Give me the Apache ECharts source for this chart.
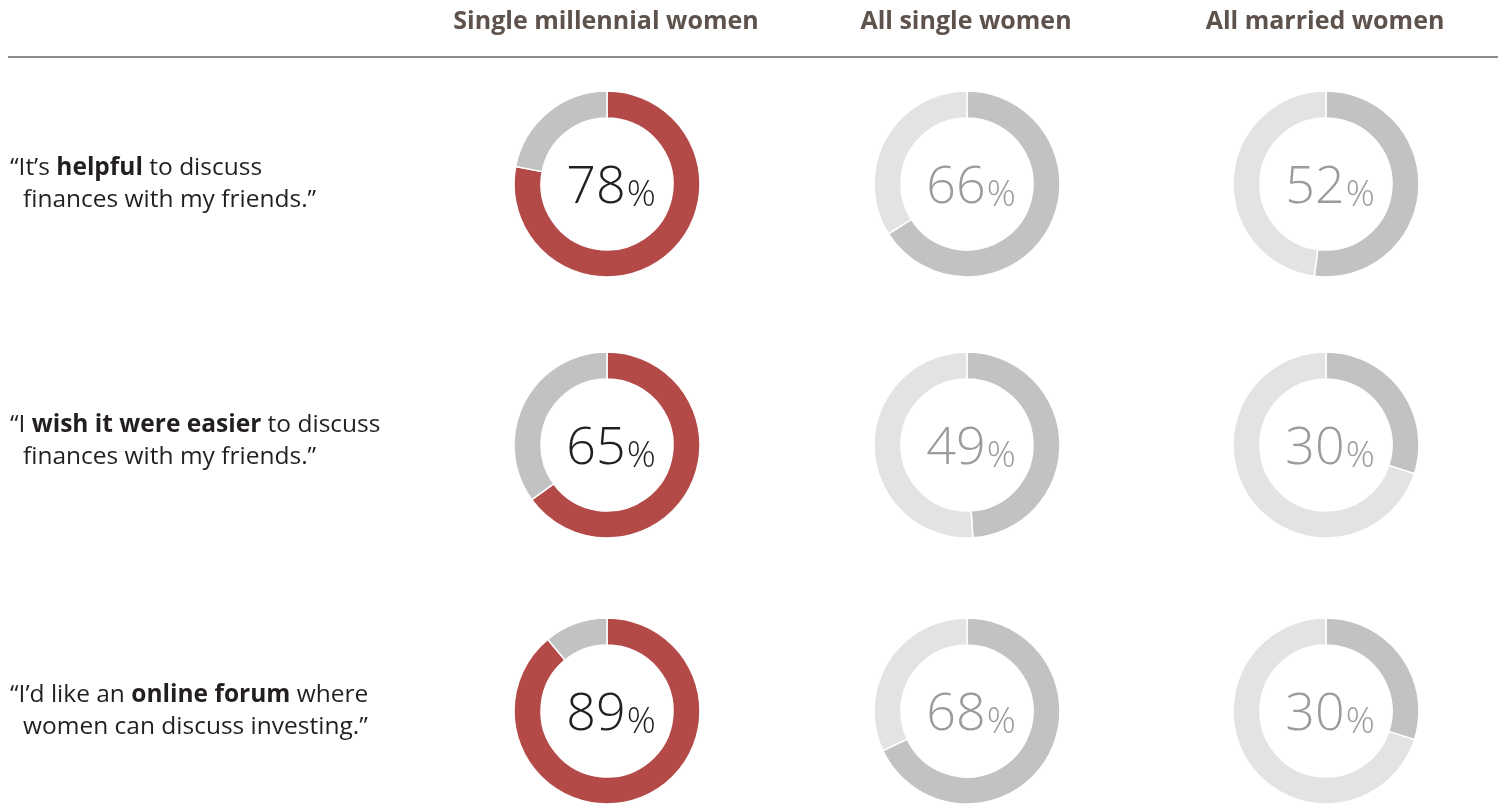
<!DOCTYPE html>
<html>
<head>
<meta charset="utf-8">
<script src="https://cdn.jsdelivr.net/npm/echarts@6/dist/echarts.min.js"></script>
<style>
html,body{margin:0;padding:0;background:#fff;}
#chart{width:1506px;height:808px;}
</style>
</head>
<body>
<div id="chart"></div>
<script>
// ---- data ----
const groups = ['Single millennial women', 'All single women', 'All married women'];
const statements = [
  '“It’s {b|helpful} to discuss\n{i|f}inances with my friends.”',
  '“I {b|wish it were easier} to discuss\n{i|f}inances with my friends.”',
  '“I’d like an {b|online forum} where\n{i|w}omen can discuss investing.”'
];
const singleMillennial = [78, 65, 89];
const allSingle = [66, 49, 68];
const allMarried = [52, 30, 30];

const seriesValues = [singleMillennial, allSingle, allMarried];

// ---- layout ----
const colX = [607, 967, 1326];
const rowY = [184, 445, 711];
const textRowY = [184, 441, 711];
const FONT = "'Open Sans', 'Noto Sans', sans-serif";

const valueColors = ['#b44a48', '#c1c2c4', '#c1c2c4'];
const restColors = ['#c1c2c4', '#e2e3e5', '#e2e3e5'];
const numColors = ['#231f20', '#9b9b9d', '#9b9b9d'];

const series = [];
seriesValues.forEach((vals, c) => {
  vals.forEach((v, r) => {
    series.push({
      type: 'pie',
      center: [colX[c], rowY[r]],
      radius: [66, 93],
      startAngle: 90,
      clockwise: true,
      silent: true,
      animation: false,
      emphasis: { disabled: true },
      labelLine: { show: false },
      itemStyle: { borderColor: '#fff', borderWidth: 1.5 },
      data: [
        {
          value: v,
          itemStyle: { color: valueColors[c] },
          label: {
            show: true,
            position: 'center',
            offset: [4, 0],
            formatter: '{n|' + v + '}{p|%}',
            rich: {
              n: { fontFamily: FONT, fontWeight: 300, fontSize: 52, color: numColors[c], lineHeight: 60, verticalAlign: 'bottom' },
              p: { fontFamily: FONT, fontWeight: 300, fontSize: 36, color: numColors[c], lineHeight: 60, verticalAlign: 'bottom', padding: [0, 0, 0, 1] }
            }
          }
        },
        {
          value: 100 - v,
          itemStyle: { color: restColors[c] },
          label: { show: false }
        }
      ]
    });
  });
});

const graphics = [];
groups.forEach((g, c) => {
  graphics.push({
    type: 'text',
    x: colX[c] - 1,
    y: 21.5,
    style: {
      text: g,
      font: 'bold 25px ' + FONT,
      fill: '#5e524c',
      align: 'center',
      verticalAlign: 'middle'
    }
  });
});
graphics.push({
  type: 'line',
  shape: { x1: 8, y1: 57, x2: 1498, y2: 57 },
  style: { stroke: '#8c8c8c', lineWidth: 2 }
});
statements.forEach((s, r) => {
  graphics.push({
    type: 'text',
    x: 10,
    y: textRowY[r],
    style: {
      text: s,
      font: '24.5px ' + FONT,
      fill: '#231f20',
      lineHeight: 32,
      align: 'left',
      verticalAlign: 'middle',
      rich: {
        b: { fontFamily: FONT, fontSize: 24.5, fontWeight: 'bold', fill: '#231f20', color: '#231f20', lineHeight: 32 },
        i: { fontFamily: FONT, fontSize: 24.5, fill: '#231f20', color: '#231f20', lineHeight: 32, padding: [0, 0, 0, 13] }
      }
    }
  });
});

const chart = echarts.init(document.getElementById('chart'));
chart.setOption({
  backgroundColor: '#fff',
  animation: false,
  series: series,
  graphic: graphics
});
</script>
</body>
</html>
